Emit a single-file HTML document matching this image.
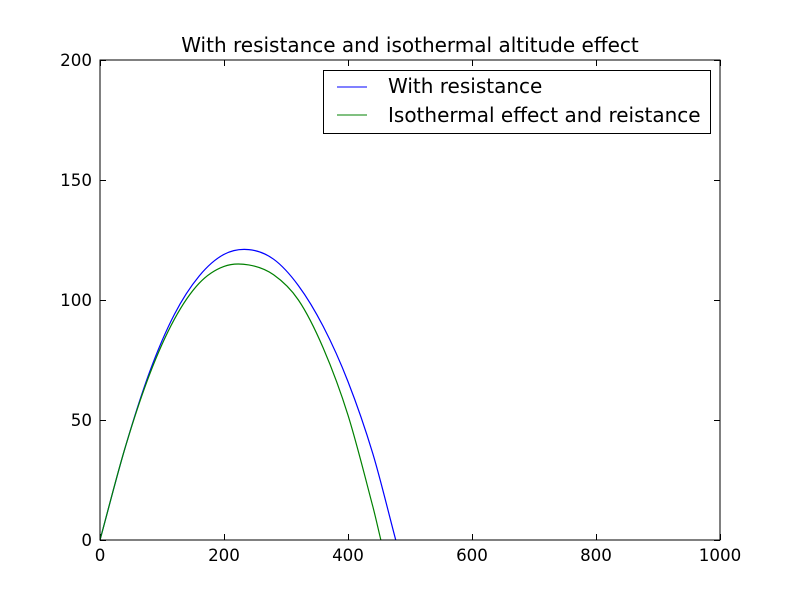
<!DOCTYPE html>
<html><head><meta charset="utf-8"><style>
body{margin:0;background:#fff}
svg text{font-family:"DejaVu Sans","Liberation Sans",sans-serif}
</style></head><body>
<svg id="chart" width="800" height="600" xmlns="http://www.w3.org/2000/svg">
<rect width="800" height="600" fill="#fff"/>
<text x="410" y="52" font-size="20" text-anchor="middle">With resistance and isothermal altitude effect</text>
<g id="ticks"></g>
<g id="series"></g>
<rect x="100" y="60" width="620" height="480" fill="none" stroke="#000" stroke-width="1"/>
<g>
<rect x="323.5" y="70.5" width="387" height="63" fill="#fff" stroke="#000"/>
<line x1="337" y1="87" x2="367" y2="87" stroke="#0000ff"/>
<text x="388" y="93" font-size="20">With resistance</text>
<line x1="337" y1="115" x2="367" y2="115" stroke="#008000"/>
<text x="388" y="122" font-size="20">Isothermal effect and reistance</text>
</g>
</svg>
<script>
const xTicks=[0,200,400,600,800,1000];
const yTicks=[0,50,100,150,200];
const blueX=[0,40,80,120,160,200,240,280,320,360,400,440,477];
const blueY=[0,38,70,94,110,119,121,117,106,89,66,36,0];
const greenX=[0,40,80,120,160,200,240,280,320,360,400,440,453];
const greenY=[0,38,69,92,107,114,114.6,110.5,100,80,52,14,0];
const NS="http://www.w3.org/2000/svg";
const sx=v=>100+v*0.62, sy=v=>540-v*2.4;
const tg=document.getElementById('ticks');
function mk(t,a,p){const e=document.createElementNS(NS,t);for(const k in a)e.setAttribute(k,a[k]);p.appendChild(e);return e;}
xTicks.forEach(v=>{const x=sx(v)+0.5;
 const l1=mk('line',{x1:x,y1:540,x2:x,y2:534,stroke:'#000'},tg);
 
 
 const l2=mk('line',{x1:x,y1:60,x2:x,y2:66,stroke:'#000'},tg);
 
 
 const t=mk('text',{x:sx(v),y:561,'font-size':16.7,'text-anchor':'middle'},tg);t.textContent=v;
 
 
});
yTicks.forEach(v=>{const y=sy(v)+0.5;
 const l1=mk('line',{x1:100,y1:y,x2:106,y2:y,stroke:'#000'},tg);
 
 
 const l2=mk('line',{x1:720,y1:y,x2:714,y2:y,stroke:'#000'},tg);
 
 
 const t=mk('text',{x:92,y:sy(v)+6,'font-size':16.7,'text-anchor':'end'},tg);t.textContent=v;
 
 
});
function path(xs,ys){const p=xs.map((x,i)=>[sx(x),sy(ys[i])]);let d='M'+p[0][0]+','+p[0][1];
 for(let i=0;i<p.length-1;i++){const p0=p[Math.max(i-1,0)],p1=p[i],p2=p[i+1],p3=p[Math.min(i+2,p.length-1)];
  const h=(p2[0]-p1[0]);
  const m1=(p2[1]-p0[1])/(p2[0]-p0[0]||1), m2=(p3[1]-p1[1])/(p3[0]-p1[0]||1);
  d+=' C'+(p1[0]+h/3)+','+(p1[1]+m1*h/3)+' '+(p2[0]-h/3)+','+(p2[1]-m2*h/3)+' '+p2[0]+','+p2[1];}
 return d;}
const sg=document.getElementById('series');
const b=mk('path',{d:path(blueX,blueY),fill:'none',stroke:'#0000ff','stroke-width':1.2},sg);


const g=mk('path',{d:path(greenX,greenY),fill:'none',stroke:'#008000','stroke-width':1.2},sg);


</script>
</body></html>
